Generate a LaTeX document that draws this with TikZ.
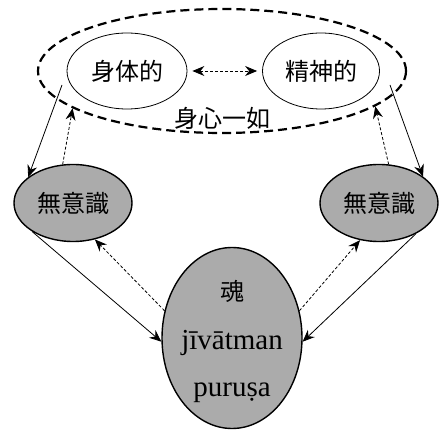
\documentclass[tikz,border=0pt]{standalone}
\usepackage{fontspec}
\setmainfont{Liberation Serif}
\newfontfamily\cjk{Noto Sans CJK JP}
\usetikzlibrary{shapes.geometric,arrows.meta}
\begin{document}
\begin{tikzpicture}[x=1pt,y=-1pt,
  oval/.style={ellipse,draw,line width=0.8pt,inner sep=0pt},
  grayoval/.style={ellipse,draw,line width=1.4pt,fill=black!33,inner sep=0pt},
  jp/.style={font=\cjk\fontsize{24}{27}\selectfont},
  lat/.style={font=\fontsize{29}{32}\selectfont},
  tip/.style={-{Stealth[length=12pt,width=10pt,inset=4pt]}},
  solidarrow/.style={tip,line width=0.8pt},
  dotarrow/.style={tip,line width=0.8pt,dash pattern=on 3pt off 2pt}]
\useasboundingbox (0,0) rectangle (444,435);
% outer dashed ellipse
\node[ellipse,draw,line width=2.2pt,dash pattern=on 9pt off 5pt,
  minimum width=368pt,minimum height=124pt,inner sep=0pt] (E) at (222,71) {};
\node[oval,minimum width=120pt,minimum height=76pt,jp] (body) at (127,71) {身体的};
\node[oval,minimum width=117pt,minimum height=76pt,jp] (mind) at (321,71) {精神的};
\node[jp] (unity) at (222,118) {身心一如};
% unconscious
\node[grayoval,minimum width=118pt,minimum height=77pt,jp] (L) at (73,203) {無意識};
\node[grayoval,minimum width=118pt,minimum height=77pt,jp] (R) at (379,203) {無意識};
% soul
\node[grayoval,minimum width=140pt,minimum height=181pt] (C) at (232,338) {};
\node[jp] (soul) at (232,291) {魂};
\node[lat] (jiva) at (232,343) {j\={\i}v\=atman};
\node[lat] (puru) at (232,393) {puru\d{s}a};
% coordinates
\coordinate (tl) at (62,85);
\coordinate (tr) at (390,85);
% arrows
\draw[{Stealth[length=12pt,width=10pt,inset=4pt]}-{Stealth[length=12pt,width=10pt,inset=4pt]},line width=0.8pt,dash pattern=on 3pt off 2pt,shorten <=5pt,shorten >=5pt] (body.east) -- (mind.west);
\draw[solidarrow] (tl) -- (L.150);
\draw[dotarrow] (L.105) -- (E.194);
\draw[solidarrow] (tr) -- (R.31);
\draw[dotarrow] (R.76) -- (E.-13);
\draw[solidarrow] (L.215) -- (C.183);
\draw[dotarrow] (C.158) -- (L.-59);
\draw[solidarrow] (R.-40) -- (C.-3);
\draw[dotarrow] (C.22) -- (R.243);
\end{tikzpicture}
\end{document}
